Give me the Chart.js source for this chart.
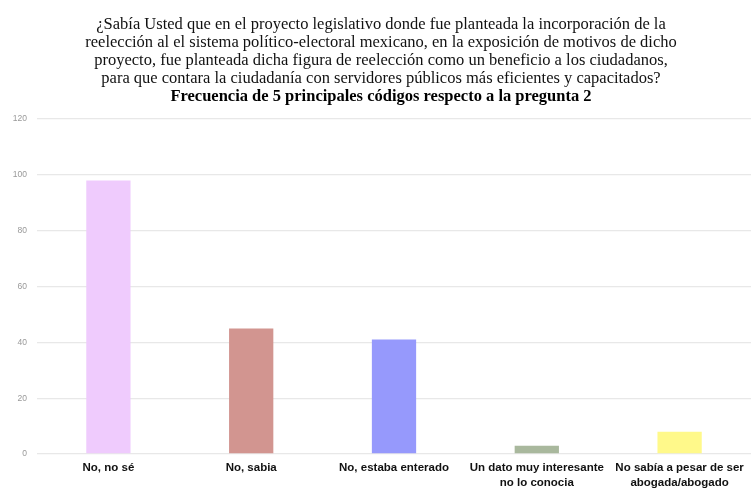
<!DOCTYPE html>
<html>
<head>
<meta charset="utf-8">
<script src="https://cdn.jsdelivr.net/npm/chart.js@4/dist/chart.umd.min.js"></script>
<style>
html,body{margin:0;padding:0;background:#fff;}
#wrap{width:754px;height:501px;position:relative;}
</style>
</head>
<body>
<div id="wrap"><canvas id="c"></canvas></div>
<script>
const categories = [
  ["No, no sé"],
  ["No, sabia"],
  ["No, estaba enterado"],
  ["Un dato muy interesante", "no lo conocia"],
  ["No sabía a pesar de ser", "abogada/abogado"]
];
const values = [98, 45, 41, 3, 8];
const barColors = ["#EFCBFD", "#D29590", "#9699FC", "#A9B89D", "#FFF98A"];
const titleLines = [
  "¿Sabía Usted que en el proyecto legislativo donde fue planteada la incorporación de la",
  "reelección al el sistema político-electoral mexicano, en la exposición de motivos de dicho",
  "proyecto, fue planteada dicha figura de reelección como un beneficio a los ciudadanos,",
  "para que contara la ciudadanía con servidores públicos más eficientes y capacitados?"
];
const subtitleText = "Frecuencia de 5 principales códigos respecto a la pregunta 2";
const yTicks = [0, 20, 40, 60, 80, 100, 120];

new Chart(document.getElementById('c'), {
  type: 'bar',
  data: {
    labels: categories,
    datasets: [{
      data: values,
      backgroundColor: barColors,
      borderWidth: 0,
      categoryPercentage: 0.62,
      barPercentage: 0.5
    }]
  },
  options: {
    responsive: true,
    maintainAspectRatio: false,
    animation: false,
    layout: { padding: { left: 11, right: 3, bottom: 5, top: 0 } },
    plugins: {
      legend: { display: false },
      tooltip: { enabled: false },
      title: {
        display: true,
        text: titleLines,
        color: '#111',
        font: { family: 'Liberation Serif', size: 16.5, weight: 'normal', lineHeight: '18px' },
        padding: { top: 16, bottom: 0 }
      },
      subtitle: {
        display: true,
        text: subtitleText,
        color: '#000',
        font: { family: 'Liberation Serif', size: 16.5, weight: 'bold', lineHeight: '18px' },
        padding: { top: 0, bottom: 13 }
      }
    },
    scales: {
      x: {
        grid: { display: false, drawTicks: false },
        border: { display: false },
        ticks: {
          color: '#111',
          font: { family: 'Liberation Sans', size: 11.5, weight: 'bold', lineHeight: '15px' },
          maxRotation: 0,
          autoSkip: false,
          padding: 6
        }
      },
      y: {
        min: 0,
        max: 120,
        afterBuildTicks: (axis) => { axis.ticks = yTicks.map(v => ({ value: v })); },
        afterFit: (axis) => { axis.width = 26; },
        grid: { color: '#e8e8e8', lineWidth: 1.3, drawTicks: false },
        border: { display: false },
        ticks: {
          color: '#999',
          font: { family: 'Liberation Sans', size: 8.5 },
          padding: 10
        }
      }
    }
  }
});
</script>
</body>
</html>
